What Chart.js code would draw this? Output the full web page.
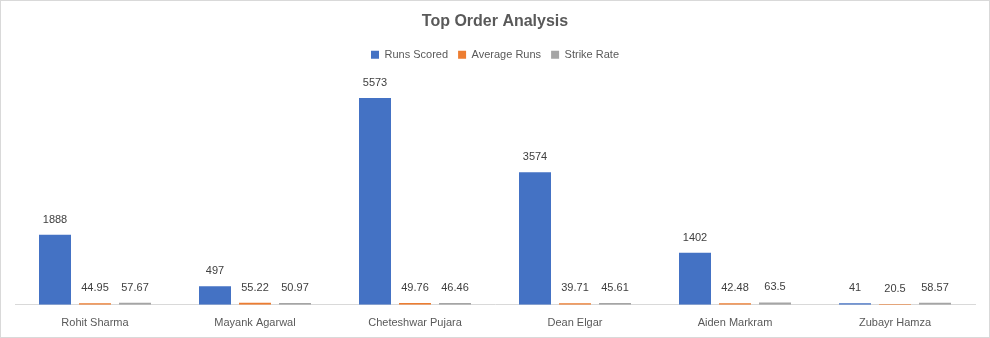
<!DOCTYPE html>
<html>
<head>
<meta charset="utf-8">
<script src="https://cdn.jsdelivr.net/npm/chart.js@4/dist/chart.umd.min.js"></script>
<style>
  html, body { margin: 0; padding: 0; background: #fff; }
  #wrap { width: 990px; height: 338px; position: relative; }
</style>
</head>
<body>
<div id="wrap"><canvas id="chart"></canvas></div>
<script>
// data
const players = ['Rohit Sharma', 'Mayank Agarwal', 'Cheteshwar Pujara', 'Dean Elgar', 'Aiden Markram', 'Zubayr Hamza'];
const runsScored = [1888, 497, 5573, 3574, 1402, 41];
const averageRuns = [44.95, 55.22, 49.76, 39.71, 42.48, 20.5];
const strikeRate = [57.67, 50.97, 46.46, 45.61, 63.5, 58.57];

const FONT = "'Liberation Sans', Arial, sans-serif";

// white background + thin frame round the chart
const frame = {
    id: 'frame',
    beforeDraw(chart) {
        const ctx = chart.ctx;
        ctx.save();
        ctx.fillStyle = '#fff';
        ctx.fillRect(0, 0, chart.width, chart.height);
        ctx.strokeStyle = '#d9d9d9';
        ctx.lineWidth = 1;
        ctx.strokeRect(0.5, 0.5, chart.width - 1, chart.height - 1);
        ctx.restore();
    }
};

// extra room below the legend
const legendGap = {
    id: 'legendGap',
    beforeInit(chart) {
        const fit = chart.legend.fit;
        chart.legend.fit = function () {
            fit.bind(chart.legend)();
            this.height += 12;
        };
    }
};

// value labels above each bar
const valueLabels = {
    id: 'valueLabels',
    afterDatasetsDraw(chart) {
        const ctx = chart.ctx;
        ctx.save();
        ctx.font = '11px ' + FONT;
        ctx.fillStyle = '#404040';
        ctx.textAlign = 'center';
        ctx.textBaseline = 'alphabetic';
        chart.data.datasets.forEach((ds, i) => {
            chart.getDatasetMeta(i).data.forEach((bar, j) => {
                ctx.fillText(String(ds.data[j]), bar.x, bar.y - 12);
            });
        });
        ctx.restore();
    }
};

new Chart(document.getElementById('chart'), {
    type: 'bar',
    data: {
        labels: players,
        datasets: [
            { label: 'Runs Scored', data: runsScored, backgroundColor: '#4472C4' },
            { label: 'Average Runs', data: averageRuns, backgroundColor: '#ED7D31' },
            { label: 'Strike Rate', data: strikeRate, backgroundColor: '#A5A5A5' }
        ]
    },
    options: {
        responsive: true,
        maintainAspectRatio: false,
        animation: false,
        categoryPercentage: 0.75,
        barPercentage: 0.8,
        layout: { padding: { top: 10, left: 15, right: 15, bottom: 4 } },
        plugins: {
            title: {
                display: true,
                text: 'Top Order Analysis',
                color: '#595959',
                font: { family: FONT, size: 16, weight: 'bold' },
                padding: { top: 2, bottom: 8 }
            },
            legend: {
                position: 'top',
                labels: {
                    boxWidth: 8,
                    boxHeight: 8,
                    color: '#595959',
                    font: { family: FONT, size: 11 },
                    padding: 10
                }
            },
            tooltip: { enabled: false }
        },
        scales: {
            x: {
                grid: { display: false },
                border: { color: '#d9d9d9' },
                ticks: { color: '#595959', font: { family: FONT, size: 11 }, padding: 4 }
            },
            y: {
                display: false,
                min: 0,
                max: 6000
            }
        }
    },
    plugins: [frame, legendGap, valueLabels]
});
</script>
</body>
</html>
